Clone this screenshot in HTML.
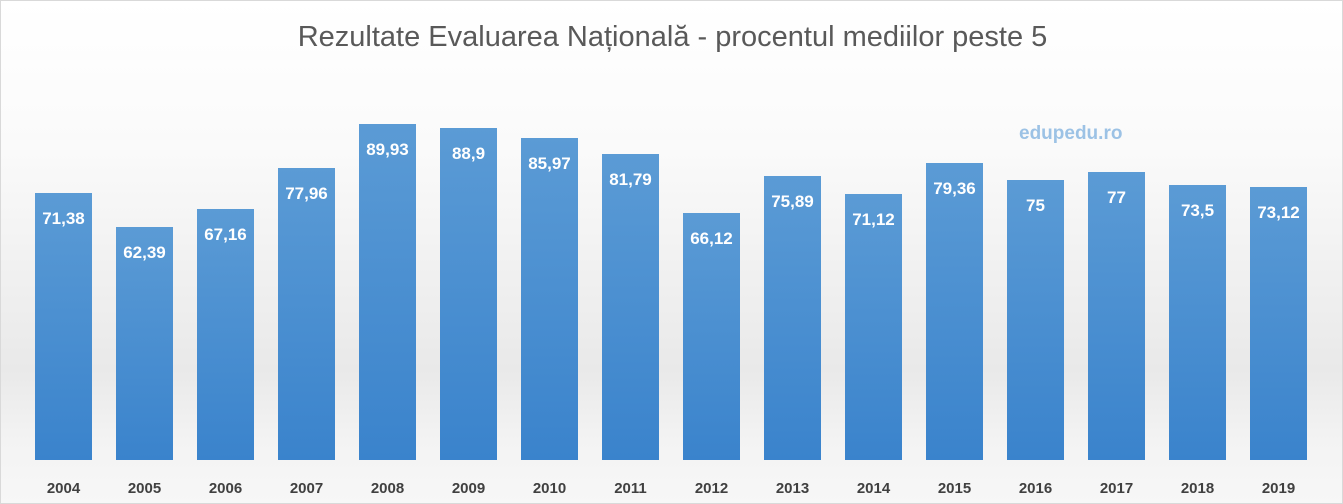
<!DOCTYPE html>
<html><head><meta charset="utf-8"><style>
html,body{margin:0;padding:0}
body{width:1343px;height:504px;position:relative;overflow:hidden;font-family:"Liberation Sans",sans-serif;
background:linear-gradient(to bottom,#ffffff 0px,#fafafa 150px,#ececec 330px,#e9e9e9 370px,#f3f3f3 440px,#f7f7f7 504px);border:1px solid #d9d9d9;box-sizing:border-box}
.t{position:absolute;top:20px;left:0;width:1343px;text-align:center;font-size:29px;color:#595959}
.b{position:absolute;width:57px;background:linear-gradient(to bottom,#5b9bd5,#3a83cc);}
.v{position:absolute;width:80px;text-align:center;color:#fff;font-weight:bold;font-size:17px}
.y{position:absolute;top:479px;width:80px;text-align:center;color:#404040;font-weight:bold;font-size:15px}
.w{position:absolute;left:1018px;top:122px;color:#9cc2e5;font-weight:bold;font-size:19px}
</style></head><body>
<div class="t">Rezultate Evaluarea Națională - procentul mediilor peste 5</div>
<div class="w">edupedu.ro</div>
<div id="c"></div>
<script>
var d=[[2004,71.38,"71,38"],[2005,62.39,"62,39"],[2006,67.16,"67,16"],[2007,77.96,"77,96"],[2008,89.93,"89,93"],[2009,88.9,"88,9"],[2010,85.97,"85,97"],[2011,81.79,"81,79"],[2012,66.12,"66,12"],[2013,75.89,"75,89"],[2014,71.12,"71,12"],[2015,79.36,"79,36"],[2016,75,"75"],[2017,77,"77"],[2018,73.5,"73,5"],[2019,73.12,"73,12"]];
var h="";
d.forEach(function(e,i){var cx=62.5+81*i;var top=459-e[1]*3.74;
h+='<div class="b" style="left:'+(cx-28.5)+'px;top:'+top+'px;height:'+(459-top)+'px"></div>';
h+='<div class="v" style="left:'+(cx-40)+'px;top:'+(top+16)+'px">'+e[2]+'</div>';
h+='<div class="y" style="left:'+(cx-40)+'px">'+e[0]+'</div>';});
document.getElementById("c").innerHTML=h;
</script>
</body></html>
